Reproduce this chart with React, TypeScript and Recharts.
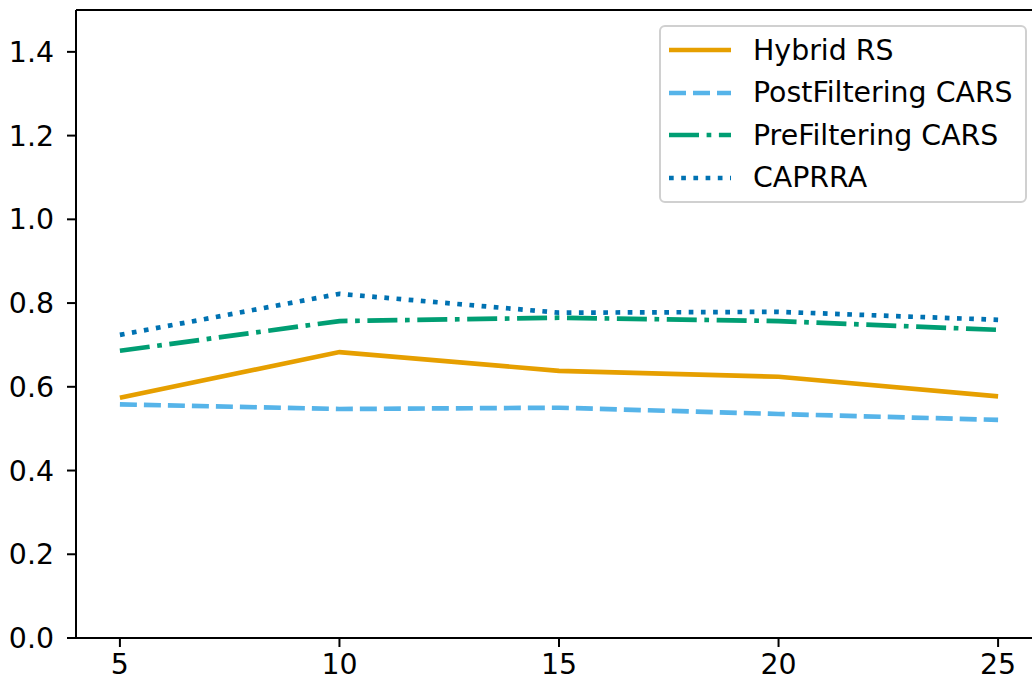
import { LineChart, Line, XAxis, YAxis, Legend, ReferenceLine } from "recharts"

const topN = [5, 10, 15, 20, 25]
const hybridRS = [0.574, 0.683, 0.638, 0.624, 0.577]
const postFiltering = [0.558, 0.547, 0.55, 0.535, 0.521]
const preFiltering = [0.686, 0.757, 0.765, 0.757, 0.736]
const caprra = [0.724, 0.822, 0.777, 0.779, 0.76]
const yTicks = [0, 0.2, 0.4, 0.6, 0.8, 1.0, 1.2, 1.4]

const data = topN.map((n, i) => ({
  n,
  hybrid: hybridRS[i],
  post: postFiltering[i],
  pre: preFiltering[i],
  caprra: caprra[i],
}))

const series = [
  { key: "hybrid", name: "Hybrid RS", color: "#E69F00", dash: undefined },
  { key: "post", name: "PostFiltering CARS", color: "#56B4E9", dash: "17 7" },
  { key: "pre", name: "PreFiltering CARS", color: "#009E73", dash: "30 7.6 4.7 7.6" },
  { key: "caprra", name: "CAPRRA", color: "#0072B2", dash: "4.7 7.5" },
]

const font = "'DejaVu Sans', sans-serif"
const tickStyle = { fill: "#000", fontSize: 28.4, fontFamily: font }

function LegendBox() {
  return (
    <div
      style={{
        boxSizing: "border-box",
        width: 368,
        height: 178,
        border: "2.5px solid #d0d0d0",
        borderRadius: 6,
        background: "rgba(255,255,255,0.8)",
        padding: "2px 10px 0 8px",
        fontFamily: font,
        fontSize: 28.4,
        color: "#000",
      }}
    >
      {series.map((s) => (
        <div key={s.key} style={{ display: "flex", alignItems: "center", height: 42.5 }}>
          <svg width={62} height={10} style={{ marginRight: 22 }}>
            <line x1={0} y1={5} x2={62} y2={5} stroke={s.color} strokeWidth={4.7} strokeDasharray={s.dash} />
          </svg>
          <span>{s.name}</span>
        </div>
      ))}
    </div>
  )
}

export default function App() {
  return (
    <div style={{ position: "absolute", left: 0, top: 0, width: 1032, height: 682, overflow: "hidden", background: "#fff" }}>
      <LineChart width={1060} height={682} data={data} margin={{ top: 10, right: 18, bottom: 0, left: 0 }}>
        <XAxis
          dataKey="n"
          type="number"
          domain={[4, 26]}
          ticks={topN}
          height={44}
          tick={tickStyle}
          tickSize={9}
          tickMargin={7}
          axisLine={{ stroke: "#000", strokeWidth: 2 }}
          tickLine={{ stroke: "#000", strokeWidth: 2 }}
        />
        <YAxis
          type="number"
          domain={[0, 1.5]}
          ticks={yTicks}
          width={76}
          tick={tickStyle}
          tickSize={9}
          tickMargin={13}
          tickFormatter={(v: number) => v.toFixed(1)}
          axisLine={{ stroke: "#000", strokeWidth: 2 }}
          tickLine={{ stroke: "#000", strokeWidth: 2 }}
        />
        <ReferenceLine y={1.5} stroke="#000" strokeWidth={2} />
        <ReferenceLine x={26} stroke="#000" strokeWidth={2} />
        {series.map((s) => (
          <Line
            key={s.key}
            type="linear"
            dataKey={s.key}
            name={s.name}
            stroke={s.color}
            strokeWidth={4.7}
            strokeDasharray={s.dash}
            dot={false}
            isAnimationActive={false}
          />
        ))}
        <Legend
          layout="vertical"
          align="center"
          verticalAlign="middle"
          content={<LegendBox />}
          wrapperStyle={{ position: "absolute", left: 659, top: 25, width: 368, height: 178 }}
        />
      </LineChart>
    </div>
  )
}
